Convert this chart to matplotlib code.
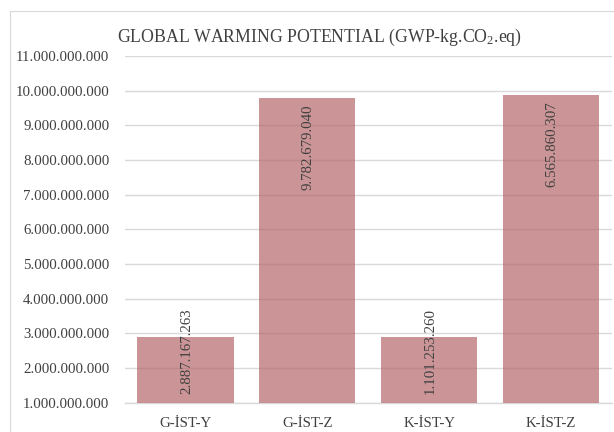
import matplotlib
matplotlib.use("Agg")
import matplotlib.pyplot as plt
from matplotlib.patches import Rectangle
from matplotlib.ticker import FuncFormatter, MultipleLocator

categories = ["G-İST-Y", "G-İST-Z", "K-İST-Y", "K-İST-Z"]
bar_values = [2887167263, 9782679040, 2895000000, 9870000000]
label_texts = ["2.887.167.263", "9.782.679.040", "1.101.253.260", "6.565.860.307"]
y_min, y_max, y_step = 1_000_000_000, 11_000_000_000, 1_000_000_000

plt.rcParams["font.family"] = ["Liberation Serif", "DejaVu Serif"]
plt.rcParams["mathtext.fontset"] = "custom"
plt.rcParams["mathtext.rm"] = "Liberation Serif"
plt.rcParams["mathtext.it"] = "Liberation Serif:italic"

text_color = "#404040"
grid_color = "#d9d9d9"

fig = plt.figure(figsize=(6.14, 4.32), dpi=100)
ax = fig.add_axes([124.5 / 614, 1 - 402.7 / 432, (612 - 124.5) / 614, (402.7 - 56) / 432])

x = list(range(len(categories)))
ax.bar(x, [v - y_min for v in bar_values], bottom=y_min, width=0.79,
       color="#b5676b", alpha=0.7, zorder=3, linewidth=0)

ax.set_xlim(-0.5, len(categories) - 0.5)
ax.set_ylim(y_min, y_max)
ax.yaxis.set_major_locator(MultipleLocator(y_step))
ax.yaxis.set_major_formatter(FuncFormatter(lambda v, p: f"{int(round(v)):,}".replace(",", ".")))
ax.grid(axis="y", color=grid_color, linewidth=1.0, zorder=1)
ax.set_axisbelow(True)
for s in ["top", "right", "left"]:
    ax.spines[s].set_visible(False)
ax.spines["bottom"].set_color(grid_color)
ax.spines["bottom"].set_linewidth(1.0)
ax.set_xticks(x)
ax.set_xticklabels(categories)
ax.tick_params(axis="both", length=0, labelsize=10.7, colors=text_color)
ax.tick_params(axis="y", pad=11)
ax.tick_params(axis="x", pad=10)

for xi, v, t in zip(x, bar_values, label_texts):
    if v - y_min > 2.6e9:
        ax.annotate(t, xy=(xi, v), xytext=(0.8, -4.5), textcoords="offset points",
                    rotation=90, ha="center", va="top", fontsize=10.7, color=text_color, zorder=4)
    else:
        ax.annotate(t, xy=(xi, y_min), xytext=(0.8, 6.3), textcoords="offset points",
                    rotation=90, ha="center", va="bottom", fontsize=10.7, color=text_color, zorder=4)

fig.text(319 / 614, 1 - 37 / 432, r"GLOBAL WARMING POTENTIAL (GWP-kg.CO$_\mathrm{2}$.eq)",
         ha="center", va="center", fontsize=12.8, color=text_color)

fig.patches.append(Rectangle((9.5 / 614, -0.1), 1.0, 1.1 - 10.7 / 432, transform=fig.transFigure,
                             fill=False, edgecolor=grid_color, linewidth=0.8))

fig.savefig("out.png", dpi=100)
